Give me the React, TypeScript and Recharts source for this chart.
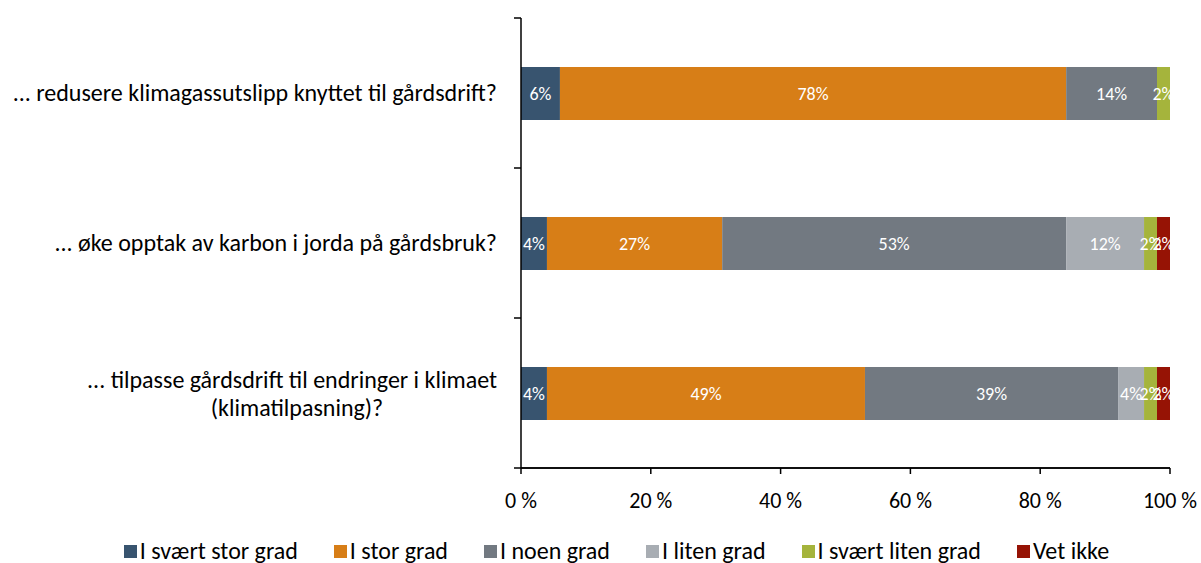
import { BarChart, Bar, XAxis, YAxis, Legend, LabelList } from "recharts";

const FONT = "Carlito, 'Liberation Sans Narrow', 'Open Sans', sans-serif";

const categories = [
  "... redusere klimagassutslipp knyttet til gårdsdrift?",
  "... øke opptak av karbon i jorda på gårdsbruk?",
  "... tilpasse gårdsdrift til endringer i klimaet\n(klimatilpasning)?",
];

const svaertStorGrad = [6, 4, 4];
const storGrad = [78, 27, 49];
const noenGrad = [14, 53, 39];
const litenGrad = [0, 12, 4];
const svaertLitenGrad = [2, 2, 2];
const vetIkke = [0, 2, 2];

const xTicks = [0, 20, 40, 60, 80, 100];

const series = [
  { key: "svaertStor", name: "I svært stor grad", color: "#38546F", values: svaertStorGrad },
  { key: "stor", name: "I stor grad", color: "#D77E17", values: storGrad },
  { key: "noen", name: "I noen grad", color: "#727981", values: noenGrad },
  { key: "liten", name: "I liten grad", color: "#A8ADB3", values: litenGrad },
  { key: "svaertLiten", name: "I svært liten grad", color: "#A5B43C", values: svaertLitenGrad },
  { key: "vetIkke", name: "Vet ikke", color: "#961305", values: vetIkke },
];

const data = categories.map((category, i) => {
  const row: any = { category };
  series.forEach((s) => (row[s.key] = s.values[i]));
  return row;
});

const CHART_W = 1201;
const CHART_H = 563;
const Y_AXIS_W = 521;
const MARGIN = { top: 18, right: 31, left: 0, bottom: 27 };
const PLOT_W = CHART_W - Y_AXIS_W - MARGIN.left - MARGIN.right;

// category label plus the short tick marks at the band edges;
// the last one also carries the x axis baseline as a thin filled rect
function CategoryTick(props: any) {
  const { x, y, payload, index, height, visibleTicksCount } = props;
  const lines = String(payload.value).split("\n");
  const half = height / visibleTicksCount / 2;
  const axisX = x + 6 + 18;
  const isLast = index === visibleTicksCount - 1;
  const tickMarks = (
    <g>
      <rect x={axisX - 7} y={y - half - 0.75} width={7} height={1.5} fill="#000" />
      {isLast && <rect x={axisX - 7} y={y + half - 0.75} width={PLOT_W + 7} height={1.5} fill="#000" />}
    </g>
  );
  if (lines.length === 1) {
    return (
      <g>
        {tickMarks}
        <text x={x} y={y} dy="0.35em" textAnchor="end" fontSize={24} fill="#000" fontFamily={FONT}>
          {lines[0]}
        </text>
      </g>
    );
  }
  return (
    <g>
      {tickMarks}
      <text x={x} y={y - 13} dy="0.35em" textAnchor="end" fontSize={24} fill="#000" fontFamily={FONT}>
        {lines[0]}
      </text>
      <text x={x - 200} y={y + 15} dy="0.35em" textAnchor="middle" fontSize={24} fill="#000" fontFamily={FONT}>
        {lines[1]}
      </text>
    </g>
  );
}

function LegendContent() {
  return (
    <div
      style={{
        display: "flex",
        justifyContent: "center",
        gap: 36,
        paddingLeft: 32,
        fontFamily: FONT,
        fontSize: 24,
        lineHeight: "28px",
        color: "#000",
        height: 28,
        alignItems: "center",
      }}
    >
      {series.map((s) => (
        <div key={s.key} style={{ display: "flex", alignItems: "center" }}>
          <span style={{ width: 13, height: 13, background: s.color, display: "inline-block", marginRight: 3 }} />
          <span>{s.name}</span>
        </div>
      ))}
    </div>
  );
}

export default function App() {
  return (
    <div style={{ position: "absolute", left: 0, top: 0, background: "#fff" }}>
      <BarChart width={CHART_W} height={CHART_H} data={data} layout="vertical" margin={MARGIN}>
        <XAxis
          type="number"
          domain={[0, 100]}
          ticks={xTicks}
          tickFormatter={(v) => `${v} %`}
          stroke="#000"
          strokeWidth={1.5}
          tickSize={6}
          tickMargin={18}
          height={40}
          tick={{ fontSize: 22, fill: "#000", fontFamily: FONT }}
        />
        <YAxis
          type="category"
          dataKey="category"
          width={Y_AXIS_W}
          axisLine={{ stroke: "#000", strokeWidth: 1.5 }}
          tickLine={false}
          tickMargin={18}
          tick={<CategoryTick />}
        />
        <Legend verticalAlign="bottom" content={<LegendContent />} wrapperStyle={{ top: 537, left: 0, width: CHART_W }} />
        {series.map((s) => (
          <Bar
            key={s.key}
            dataKey={s.key}
            name={s.name}
            stackId="a"
            fill={s.color}
            barSize={53}
            isAnimationActive={false}
          >
            <LabelList
              dataKey={s.key}
              position="center"
              fill="#fff"
              fontSize={18}
              fontFamily={FONT}
              formatter={(v: any) => (v ? `${v}%` : "")}
            />
          </Bar>
        ))}
      </BarChart>
    </div>
  );
}
